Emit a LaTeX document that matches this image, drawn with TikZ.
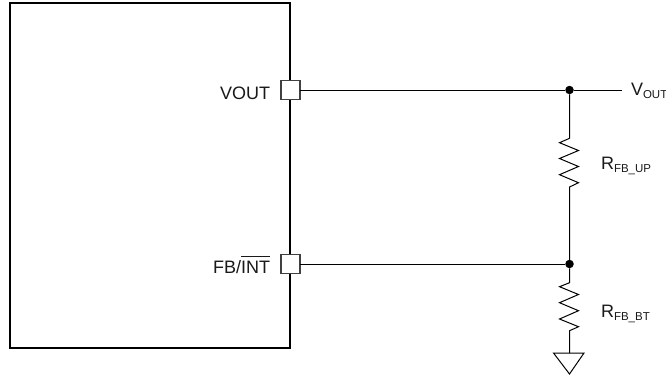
\documentclass[tikz,border=0pt]{standalone}
\usepackage{fontspec}
\setmainfont{Liberation Sans}
\newcommand{\mainsz}{\fontsize{18}{20}\selectfont}
\newcommand{\subtxt}[1]{\raisebox{-3.2pt}{\fontsize{11.5}{12}\selectfont #1}}
\begin{document}
\begin{tikzpicture}[x=1pt,y=-1pt,
  wire/.style={line width=1pt,black},
  chip/.style={draw=black,line width=2.1pt,fill=white,minimum width=280pt,minimum height=345pt,inner sep=0pt,outer sep=0pt},
  pin/.style={draw=black!75,line width=1.1pt,fill=white,minimum size=19pt,inner sep=0pt,outer sep=0pt},
  dot/.style={circle,fill=black,minimum size=8.5pt,inner sep=0pt,outer sep=0pt},
  lbl/.style={inner sep=0pt,outer sep=0pt,font=\mainsz,text=black!90},
  gnd/.style={draw=black,line width=1pt,line join=miter},
  zig/.style={wire,line join=miter}]
\useasboundingbox (0,0) rectangle (666,376);
\node[chip] (ic) at (150,175.5) {};
\node[pin] (p1) at (290.5,90) {};
\node[pin] (p2) at (290.5,264) {};
\node[dot] (j1) at (569.5,90) {};
\node[dot] (j2) at (569.5,264) {};
\coordinate (vo) at (622,90);
\coordinate (gt) at (569.5,353);
\node[lbl,anchor=base east] (l1) at (270,99) {VOUT};
\node[lbl,anchor=base east] (l2) at (270,273) {FB/$\overline{\hbox{INT\vrule height 15.5pt width 0pt}}$};
\node[lbl,anchor=base west] (l3) at (631,95) {V\subtxt{OUT}};
\node[lbl,anchor=base west] (l4) at (601,169) {R\subtxt{FB\_UP}};
\node[lbl,anchor=base west] (l5) at (601,317) {R\subtxt{FB\_BT}};
\draw[wire] (p1) -- (j1) -- (vo);
\draw[wire] (p2) -- (j2);
\draw[zig] (j1) -- (569.5,138.3) -- (559.5,142.7) -- (578.5,150.5) -- (559.5,158.5) -- (578.5,166.5) -- (559.5,174.7) -- (578.5,182.7) -- (569.5,187) -- (j2);
\draw[zig] (j2) -- (569.5,282.7) -- (559.5,286.7) -- (578.5,294.5) -- (559.5,302.7) -- (578.5,310.7) -- (559.5,319) -- (578.5,326.7) -- (569.5,330.7) -- (gt);
\draw[gnd] (553.5,353) -- (584,353) -- (569.5,374) -- cycle;
\end{tikzpicture}
\end{document}
